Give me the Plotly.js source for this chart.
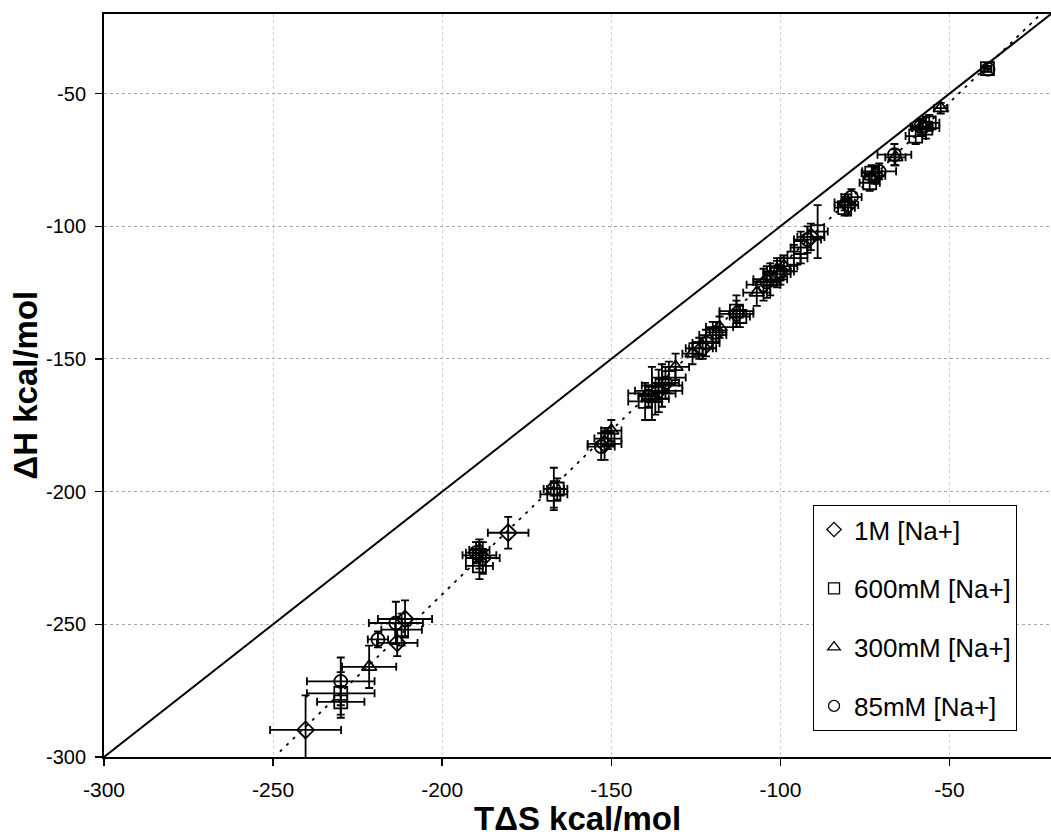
<!DOCTYPE html>
<html>
<head>
<meta charset="utf-8">
<script src="https://cdn.plot.ly/plotly-3.0.1.min.js"></script>
<style>html,body{margin:0;padding:0;background:#fff;}#chart{width:1051px;height:840px;}</style>
</head>
<body>
<div id="chart"></div>
<script>
// ---- data ----
const tickVals = [-300, -250, -200, -150, -100, -50];
const tickText = ['-300', '-250', '-200', '-150', '-100', '-50'];

// 1M [Na+]  (diamonds)
const x1M  = [-240.4, -213.3, -211, -180.5, -188, -152, -136, -123, -113, -105, -101, -91, -80, -72, -58];
const y1M  = [-289.8, -257, -248, -215.5, -225, -182, -162, -146, -133, -122, -117, -104, -92, -81, -63];
const ex1M = [10.5, 6, 8, 6, 5, 5, 7, 4, 5, 5, 4, 4, 3, 3, 3];
const ey1M = [13, 5, 7, 6, 6, 6, 8, 4, 5, 6, 5, 5, 4, 3, 3];

// 600mM [Na+] (squares)
const x600  = [-230, -230, -212, -189, -189, -167, -166, -151, -140, -138, -135, -133, -124, -120, -113, -112, -103, -101, -96, -94, -89, -81, -73.6, -73, -60, -57, -56, -38.8];
const y600  = [-279.2, -276, -252, -228, -224, -201, -199, -180, -166, -163, -160, -157, -146, -141, -132, -134, -120, -118, -112, -108, -102, -93, -83.6, -80, -66, -63, -61, -40.6];
const ex600 = [7, 10, 6, 4, 5, 4, 3, 4, 5, 7, 6, 5, 4, 4, 5, 3, 5, 4, 4, 3, 3, 3, 3, 3, 3, 4, 3, 1];
const ey600 = [6, 8, 6, 5, 5, 5, 4, 4, 7, 10, 8, 6, 4, 5, 6, 4, 6, 5, 5, 6, 10, 3, 3, 3, 3, 4, 3, 1];

// 300mM [Na+] (triangles)
const x300  = [-221.6, -189, -150, -131, -137, -126, -118, -107, -99, -81, -66, -52.6];
const y300  = [-266, -222, -177, -153, -165, -148, -138, -125, -115, -91, -74, -55.5];
const ex300 = [8, 3, 3, 4, 4, 3, 4, 4, 4, 3, 3, 2];
const ey300 = [8, 4, 4, 5, 6, 4, 4, 5, 4, 3, 3, 2];

// 85mM [Na+] (circles)
const x85  = [-230, -219, -213.7, -190, -167, -153, -139, -134, -122, -119, -104, -100, -92, -79, -70.8, -66.3, -58.5, -38.6];
const y85  = [-271.5, -255.7, -249.5, -223, -199, -183, -164, -159, -144, -140, -121, -117, -105, -89, -79.3, -73, -62.4, -40.8];
const ex85 = [10, 3, 8, 3, 3, 4, 3, 4, 4, 3, 4, 4, 4, 3, 5, 5, 3, 1];
const ey85 = [9, 3, 8, 4, 8, 5, 4, 6, 5, 4, 6, 5, 5, 3, 3, 4, 3, 1];

// reference lines
const idX = [-300, -20], idY = [-300, -20];        // ΔH = TΔS
const fitX = [-248, -23], fitY = [-298, -20];      // linear fit (dotted)

const seriesNames = ['1M [Na+]', '600mM [Na+]', '300mM [Na+]', '85mM [Na+]'];
const xTitle = 'T\u0394S kcal/mol';
const yTitle = '\u0394H kcal/mol';

// ---- build traces ----
const FONT = '"Liberation Sans", Arial, sans-serif';
function dataTrace(x, y, ex, ey, sym, name) {
  return {
    type: 'scatter', mode: 'markers', x: x, y: y, name: name, showlegend: false,
    marker: {symbol: sym, size: 13, color: '#000', line: {color: '#000', width: 1.8}},
    error_x: {type: 'data', array: ex, visible: true, color: '#000', thickness: 1.8, width: 4},
    error_y: {type: 'data', array: ey, visible: true, color: '#000', thickness: 1.8, width: 4}
  };
}
function legendTrace(sym, name, i) {
  return {
    type: 'scatter', mode: 'markers', x: [null], y: [null], name: name, legendgroup: 'g' + i,
    marker: {symbol: sym, size: 11, color: '#000', line: {color: '#000', width: 1.3}}
  };
}
const syms = ['diamond-open', 'square-open', 'triangle-up-open', 'circle-open'];
const traces = [
  {type: 'scatter', mode: 'lines', x: idX, y: idY, showlegend: false, line: {color: '#000', width: 2}},
  {type: 'scatter', mode: 'lines', x: fitX, y: fitY, showlegend: false, line: {color: '#000', width: 1.8, dash: '3px,6px'}},
  dataTrace(x1M, y1M, ex1M, ey1M, syms[0], seriesNames[0]),
  dataTrace(x600, y600, ex600, ey600, syms[1], seriesNames[1]),
  dataTrace(x300, y300, ex300, ey300, syms[2], seriesNames[2]),
  dataTrace(x85, y85, ex85, ey85, syms[3], seriesNames[3])
];
seriesNames.forEach((n, i) => traces.push(legendTrace(syms[i], n, i)));

const axisCommon = {
  tickvals: tickVals, ticktext: tickText, ticks: 'outside', ticklen: 7, tickwidth: 1.5, tickcolor: '#000',
  showline: true, linecolor: '#000', linewidth: 2, mirror: true,
  zeroline: false, range: [-300, -20]
};
const layout = {
  width: 1051, height: 840,
  margin: {l: 104, r: 0, t: 14, b: 83},
  paper_bgcolor: '#fff', plot_bgcolor: '#fff',
  showlegend: true,
  xaxis: Object.assign({}, axisCommon, {
    ticklabelstandoff: 6, tickfont: {family: FONT, size: 21, color: '#000'},
    showgrid: true, gridcolor: '#d0d0d0', griddash: 'dot', gridwidth: 1
  }),
  yaxis: Object.assign({}, axisCommon, {
    ticklabelstandoff: 5, tickfont: {family: FONT, size: 20, color: '#000'},
    showgrid: true, gridcolor: '#a8a8a8', griddash: 'dot', gridwidth: 1
  }),
  annotations: [
    {xref: 'paper', yref: 'paper', x: 0.5, y: -0.0825, xanchor: 'center', yanchor: 'middle', showarrow: false,
     text: '<b>' + xTitle + '</b>', font: {family: FONT, size: 33, color: '#000'}},
    {xref: 'paper', yref: 'paper', x: -0.0834, y: 0.5, xanchor: 'center', yanchor: 'middle', showarrow: false,
     textangle: -90, text: '<b>' + yTitle + '</b>', font: {family: FONT, size: 33, color: '#000'}}
  ],
  legend: {
    x: 0.7487, y: 0.339, xanchor: 'left', yanchor: 'top',
    bgcolor: '#fff', bordercolor: '#000', borderwidth: 1,
    font: {family: FONT, size: 26, color: '#000'},
    tracegroupgap: 22, itemwidth: 30
  }
};
Plotly.newPlot('chart', traces, layout, {displayModeBar: false, staticPlot: true});
</script>
</body>
</html>
